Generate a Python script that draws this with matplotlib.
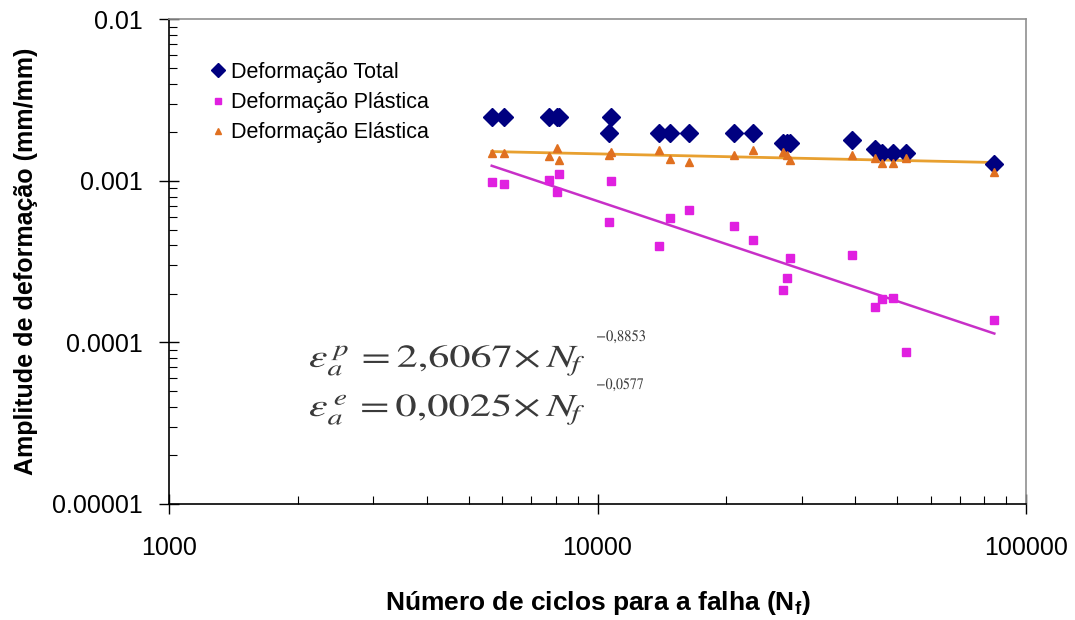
import numpy as np
import matplotlib
matplotlib.use("Agg")
import matplotlib.pyplot as plt
from matplotlib.ticker import LogLocator, FixedLocator, FixedFormatter, NullFormatter
from matplotlib.textpath import TextPath
from matplotlib.patches import PathPatch
from matplotlib.font_manager import FontProperties
from matplotlib.transforms import Affine2D, IdentityTransform

plt.rcParams['font.family'] = ['Liberation Sans', 'DejaVu Sans']
plt.rcParams['mathtext.fontset'] = 'custom'
plt.rcParams['mathtext.rm'] = 'Liberation Sans'
plt.rcParams['mathtext.bf'] = 'Liberation Sans:bold'
plt.rcParams['mathtext.it'] = 'Liberation Sans:italic'

# ---- data ----
cycles = [5664, 6050, 7705, 8031, 8130, 10637, 10752, 13918, 14790, 16375,
          20830, 23100, 27150, 27640, 28140, 39200, 44420, 46050, 48860, 52480, 84350]
total = [0.00247, 0.00247, 0.00247, 0.00247, 0.00247, 0.00197, 0.00247, 0.00197, 0.00197, 0.00197,
         0.00197, 0.00197, 0.00171, 0.00171, 0.00171, 0.00179, 0.00158, 0.00148, 0.00148, 0.00148, 0.00128]
plastic = [0.000979, 0.000959, 0.00101, 0.000856, 0.00111, 0.000558, 0.00100, 0.000393, 0.000586, 0.000657,
           0.000525, 0.000430, 0.000211, 0.000249, 0.000331, 0.000347, 0.000165, 0.000185, 0.000189, 0.0000871, 0.000137]
elastic = [0.00149, 0.00149, 0.00143, 0.00159, 0.001345, 0.00144, 0.00150, 0.00155, 0.00137, 0.001307,
           0.00144, 0.001545, 0.00151, 0.00144, 0.001345, 0.00144, 0.00138, 0.001283, 0.001283, 0.00138, 0.00113]

# fitted power laws shown on the chart
plastic_coef, plastic_exp = 2.6067, -0.8853
elastic_coef, elastic_exp = 0.0025, -0.0577

y_ticks = [0.00001, 0.0001, 0.001, 0.01]
y_labels = ["0.00001", "0.0001", "0.001", "0.01"]
x_ticks = [1000, 10000, 100000]
x_labels = ["1000", "10000", "100000"]

W, H = 1075, 620
fig = plt.figure(figsize=(W/100, H/100), dpi=100)
ax = fig.add_axes([169/W, 1-504/H, (1026-169)/W, (504-19.3)/H])

nline = np.geomspace(min(cycles), max(cycles), 50)
ax.plot(nline, elastic_coef*nline**elastic_exp, color='#E8A030', lw=2, zorder=2)
ax.plot(nline, plastic_coef*nline**plastic_exp, color='#C830C8', lw=1.8, zorder=2)

ax.plot(cycles, total, 'D', color='#000080', markersize=9, ls='none', label='Deformação Total', zorder=3)
ax.plot(cycles, plastic, 's', color='#E020E0', markersize=5.5, ls='none', label='Deformação Plástica', zorder=3)
ax.plot(cycles, elastic, '^', color='#E07020', markersize=6, ls='none', label='Deformação Elástica', zorder=3)

ax.set_xscale('log')
ax.set_yscale('log')
ax.set_xlim(1000, 100000)
ax.set_ylim(0.00001, 0.01)

ax.xaxis.set_major_locator(FixedLocator(x_ticks))
ax.xaxis.set_major_formatter(FixedFormatter(x_labels))
ax.yaxis.set_major_locator(FixedLocator(y_ticks))
ax.yaxis.set_major_formatter(FixedFormatter(y_labels))
ax.xaxis.set_minor_locator(LogLocator(base=10, subs=np.arange(2, 10)))
ax.yaxis.set_minor_locator(LogLocator(base=10, subs=np.arange(2, 10)))
ax.xaxis.set_minor_formatter(NullFormatter())
ax.yaxis.set_minor_formatter(NullFormatter())

ax.tick_params(which='major', direction='inout', length=14, width=1, labelsize=18)
ax.tick_params(axis='y', which='major', pad=12)
ax.tick_params(axis='x', which='major', pad=16)
ax.tick_params(which='minor', direction='in', length=6, width=0.8)

for s in ['left', 'bottom']:
    ax.spines[s].set_color('black')
    ax.spines[s].set_linewidth(1.2)
for s in ['top', 'right']:
    ax.spines[s].set_color('#909090')
    ax.spines[s].set_linewidth(1.2)

ax.set_xlabel(r'Número de ciclos para a falha (N$_\mathbf{f}$)', fontsize=19, fontweight='bold',
              labelpad=21, math_fontfamily='custom')
ax.set_ylabel('Amplitude de deformação (mm/mm)', fontsize=18, fontweight='bold', labelpad=10)

leg = ax.legend(loc='upper left', bbox_to_anchor=(205/W, 1-62/H), bbox_transform=fig.transFigure,
                frameon=False, fontsize=15.5, handletextpad=0.0, labelspacing=0.42,
                handlelength=1.2, borderaxespad=0, borderpad=0)
for h in leg.legend_handles:
    h.set_markersize(h.get_markersize() * 0.75)

# equations, drawn horizontally stretched as in the reference
eq_color = '#3a3a3a'
eq_prop = FontProperties(family='serif', math_fontfamily='stix')


def stretched_text(s, x_left, baseline, size, width):
    tp = TextPath((0, 0), s, size=size, prop=eq_prop)
    ext = tp.get_extents()
    sx = width / ext.width
    tr = Affine2D().translate(-ext.x0, 0).scale(sx, 1).translate(x_left, H - baseline)
    patch = PathPatch(tp, transform=tr + IdentityTransform(), facecolor=eq_color,
                      edgecolor='none', lw=0)
    fig.add_artist(patch)


stretched_text(r'$\varepsilon_a^{\,p}\, = 2{,}6067\!\times\!\,N_{\!f}$', 310, 367, 32, 274)
stretched_text(r'$-0{,}8853$', 597, 341, 16, 48)
stretched_text(r'$\varepsilon_a^{\,e}\, = 0{,}0025\!\times\!\,N_{\!f}$', 310, 416, 32, 274)
stretched_text(r'$-0{,}0577$', 597, 389, 16, 46)

fig.savefig('out.png', dpi=100)
